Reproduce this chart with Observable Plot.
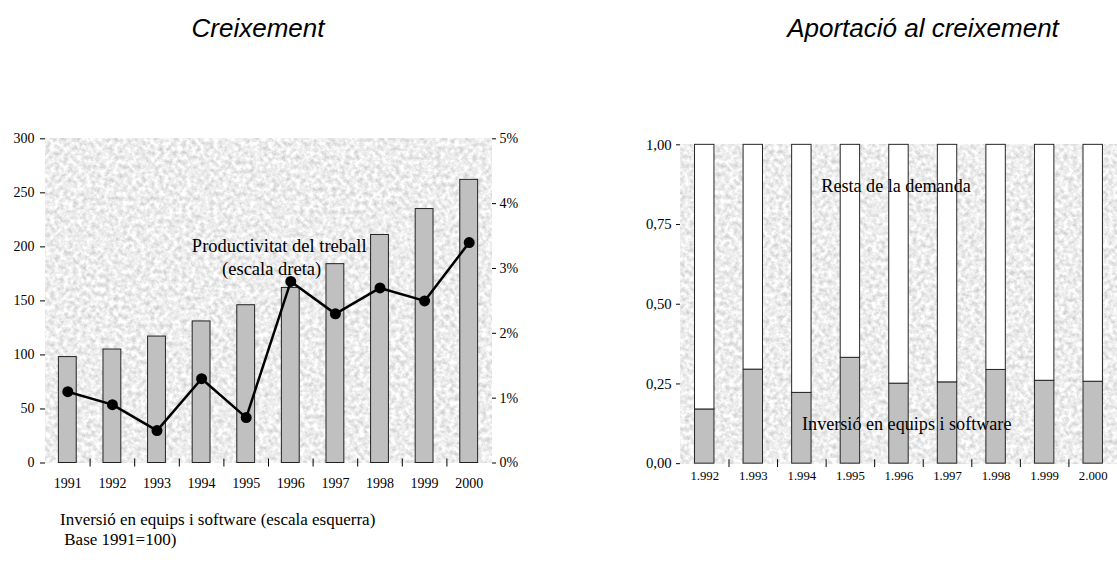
<!DOCTYPE html>
<html><head><meta charset="utf-8">
<script src="https://cdn.jsdelivr.net/npm/d3@7"></script>
<script src="https://cdn.jsdelivr.net/npm/@observablehq/plot@0.6"></script>
<style>
html,body{margin:0;padding:0;background:#fff}
body{width:1117px;height:563px;overflow:hidden;position:relative;font-family:"Liberation Serif","Times New Roman",serif;color:#000}
.title{position:absolute;top:15px;font-family:"Liberation Sans",Arial,sans-serif;font-style:italic;font-size:26px;line-height:26px;transform:translateX(-50%);white-space:nowrap}
#left{position:absolute;left:0;top:110px}
#right{position:absolute;left:600px;top:110px}
.caption{position:absolute;left:60px;top:510px;font-size:17px;line-height:20px;white-space:pre}
</style></head><body>
<svg width="0" height="0" style="position:absolute">
  <defs>
    <filter id="tex" x="0" y="0" width="1" height="1" color-interpolation-filters="sRGB">
      <feTurbulence type="fractalNoise" baseFrequency="0.22" numOctaves="3" seed="7" result="n"/>
      <feColorMatrix in="n" type="matrix" values="0.34 0 0 0 0.76  0.34 0 0 0 0.76  0.34 0 0 0 0.76  0 0 0 0 1"/>
    </filter>
  </defs>
</svg>
<div class="title" id="t1" style="left:258px"></div>
<div class="title" id="t2" style="left:923px"></div>
<div id="left"></div>
<div id="right"></div>
<div class="caption" id="cap"></div>
<script>
// ---- data ----
const titles = ["Creixement", "Aportació al creixement"];
const years = [1991, 1992, 1993, 1994, 1995, 1996, 1997, 1998, 1999, 2000];
const investment = [98, 105, 117, 131, 146, 162, 184, 211, 235, 262];      // left scale, base 1991=100
const productivity = [1.1, 0.9, 0.5, 1.3, 0.7, 2.8, 2.3, 2.7, 2.5, 3.4];  // %, right scale
const leftTicks = [0, 50, 100, 150, 200, 250, 300];
const pctTicks = [0, 1, 2, 3, 4, 5];
const leftNote = ["Productivitat del treball", "(escala dreta)"];
const captionLines = ["Inversió en equips i software (escala esquerra)", " Base 1991=100)"];

const contribYears = [1992, 1993, 1994, 1995, 1996, 1997, 1998, 1999, 2000];
const equipShare = [0.17, 0.295, 0.222, 0.332, 0.251, 0.255, 0.294, 0.26, 0.257];
const shareTicks = [0, 0.25, 0.5, 0.75, 1];
const rightNotes = ["Resta de la demanda", "Inversió en equips i software"];

// ---- derived tables ----
const pctMax = 5, leftMax = 300, k = leftMax / pctMax;
const invData = years.map((y, i) => ({year: y, value: investment[i]}));
const prodData = years.map((y, i) => ({year: y, value: productivity[i]}));
const shareData = contribYears.map((y, i) => ({year: y, equip: equipShare[i]}));
const leftBounds = years.slice(1).map(y => y - 0.5);
const rightBounds = contribYears.slice(1).map(y => y - 0.5);

document.getElementById("t1").textContent = titles[0];
document.getElementById("t2").textContent = titles[1];
document.getElementById("cap").textContent = captionLines.join("\n");

const serif = "'Liberation Serif','Times New Roman',serif";

const left = Plot.plot({
  width: 530, height: 390,
  marginLeft: 45, marginRight: 39, marginTop: 28.3, marginBottom: 37.5,
  x: {domain: [years[0] - 0.5, years[years.length - 1] + 0.5], axis: null},
  y: {domain: [0, leftMax], axis: null},
  style: {fontFamily: serif, fontSize: "14px", color: "#000", background: "transparent", overflow: "visible"},
  marks: [
    Plot.frame({fill: "#e8e8e8", stroke: null}),
    Plot.rect(invData, {x1: d => d.year - 0.2, x2: d => d.year + 0.2, y1: 0, y2: "value", fill: "#c0c0c0", stroke: "#222", strokeWidth: 1}),
    Plot.line(prodData, {x: "year", y: d => d.value * k, stroke: "#000", strokeWidth: 2.5}),
    Plot.dot(prodData, {x: "year", y: d => d.value * k, r: 5.5, fill: "#000", stroke: null}),
    Plot.axisY({ticks: leftTicks, anchor: "left", label: null, tickSize: 5, tickPadding: 6, line: true, tickFormat: d => String(d)}),
    Plot.axisY({ticks: pctTicks.map(p => p * k), anchor: "right", label: null, tickSize: 4, tickPadding: 4, line: true, tickFormat: d => (d / k) + "%"}),
    Plot.axisX({ticks: years, anchor: "bottom", label: null, tickSize: 0, tickPadding: 15, line: true, tickFormat: d => String(d)}),
    Plot.ruleX(leftBounds, {x: d => d, y1: 0, y2: 0, insetTop: -4, insetBottom: -4, stroke: "#000"}),
    Plot.text([leftNote[0]], {x: 1995.74, y: 201, text: d => d, fontSize: 18.5, textAnchor: "middle", fill: "#000"}),
    Plot.text([leftNote[1]], {x: 1995.57, y: 179, text: d => d, fontSize: 18.5, textAnchor: "middle", fill: "#000"})
  ]
});
document.getElementById("left").appendChild(left);

const right = Plot.plot({
  width: 527, height: 390,
  marginLeft: 81.5, marginRight: 0, marginTop: 35, marginBottom: 30,
  x: {domain: [contribYears[0] - 0.5, contribYears[contribYears.length - 1] + 0.5], axis: null},
  y: {domain: [0, 1], axis: null},
  style: {fontFamily: serif, fontSize: "14px", color: "#000", background: "transparent", overflow: "visible"},
  marks: [
    Plot.frame({fill: "#ebebeb", stroke: null}),
    Plot.rect(shareData, {x1: d => d.year - 0.2, x2: d => d.year + 0.2, y1: 0, y2: "equip", fill: "#c0c0c0", stroke: "#222", strokeWidth: 1}),
    Plot.rect(shareData, {x1: d => d.year - 0.2, x2: d => d.year + 0.2, y1: "equip", y2: 1, fill: "#fff", stroke: "#222", strokeWidth: 1}),
    Plot.axisY({ticks: shareTicks, anchor: "left", label: null, tickSize: 4, tickPadding: 5, line: true, fontSize: 15, tickFormat: d => d.toFixed(2).replace(".", ",")}),
    Plot.axisX({ticks: contribYears, anchor: "bottom", label: null, tickSize: 0, tickPadding: 7, line: true, fontSize: 13, tickFormat: d => d3.format(",")(d).replace(",", ".")}),
    Plot.ruleX(rightBounds, {x: d => d, y1: 0, y2: 0, insetTop: -4, insetBottom: -4, stroke: "#000"}),
    Plot.text([rightNotes[0]], {x: 1995.94, y: 0.87, text: d => d, fontSize: 18.5, textAnchor: "middle", fill: "#000"}),
    Plot.text([rightNotes[1]], {x: 1996.16, y: 0.125, text: d => d, fontSize: 18.5, textAnchor: "middle", fill: "#000"})
  ]
});
document.getElementById("right").appendChild(right);

for (const svg of [left, right]) {
  const f = svg.querySelector('[aria-label="frame"]');
  if (f) f.setAttribute("filter", "url(#tex)");
}
</script>
</body></html>
